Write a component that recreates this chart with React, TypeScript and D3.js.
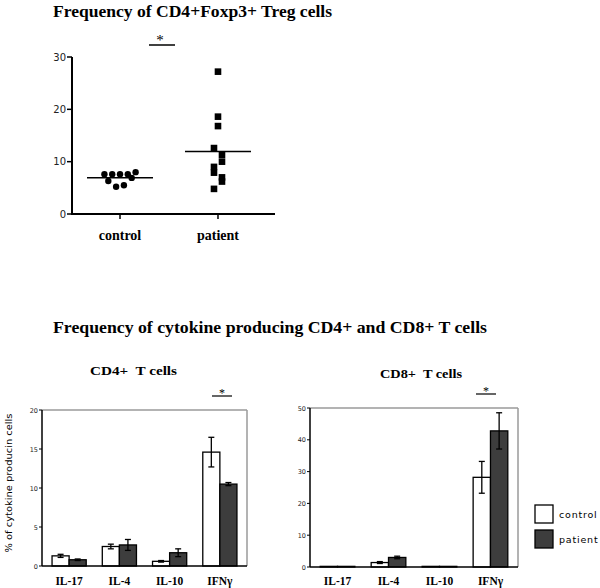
import React from "react";
import * as d3 from "d3";

// ---------- Data ----------
const groups = ["control", "patient"];
const controlTreg = [7.6, 6.3, 7.6, 5.2, 7.6, 5.5, 7.6, 6.9, 8.0];
const patientTreg = [27.2, 18.6, 16.8, 12.6, 11.3, 10.0, 9.0, 7.9, 7.0, 6.2, 4.8];
const patientSide = [0, 0, 0, -1, 1, 1, -1, -1, 1, 1, -1];
const tregTicks = [0, 10, 20, 30];

const cytokines = ["IL-17", "IL-4", "IL-10", "IFNγ"];
const cd4Control = [1.3, 2.5, 0.6, 14.6];
const cd4ControlErr = [0.2, 0.3, 0.1, 1.9];
const cd4Patient = [0.8, 2.7, 1.7, 10.5];
const cd4PatientErr = [0.1, 0.7, 0.5, 0.2];
const cd4Ticks = [0, 5, 10, 15, 20];

const cd8Control = [0.2, 1.4, 0.2, 28.2];
const cd8ControlErr = [0, 0.3, 0, 5.0];
const cd8Patient = [0.2, 3.0, 0.2, 42.8];
const cd8PatientErr = [0, 0.4, 0, 5.7];
const cd8Ticks = [0, 10, 20, 30, 40, 50];

const serif = "'Liberation Serif', 'Times New Roman', Times, 'DejaVu Serif', serif";
const sans = "'DejaVu Sans', Verdana, sans-serif";

function TregPlot() {
  const y = d3.scaleLinear().domain([0, 30]).range([214, 57]);
  const x = d3.scalePoint<string>().domain(groups).range([72, 266]).padding(0.49);
  const cx = x("control")!;
  const px = x("patient")!;
  const cMean = d3.mean(controlTreg)!;
  const pMean = d3.mean(patientTreg)!;
  const n = controlTreg.length;
  return (
    <g>
      <text x={53} y={17} fontFamily={serif} fontWeight="bold" fontSize={16}
        textLength={279} lengthAdjust="spacingAndGlyphs">Frequency of CD4+Foxp3+ Treg cells</text>
      {/* significance */}
      <text x={160} y={45} fontFamily={serif} fontSize={15} textAnchor="middle">*</text>
      <line x1={149} x2={175} y1={45} y2={45} stroke="#000" strokeWidth={1.5} />
      {/* axes */}
      <line x1={72} x2={72} y1={57} y2={214} stroke="#000" strokeWidth={2} />
      <line x1={71} x2={275} y1={214} y2={214} stroke="#000" strokeWidth={2} />
      {tregTicks.map((t) => (
        <g key={t}>
          <line x1={67} x2={72} y1={y(t)} y2={y(t)} stroke="#000" strokeWidth={1.5} />
          <text x={66} y={y(t) + 3.5} fontFamily={sans} fontSize={10} textAnchor="end" fill="#222">{t}</text>
        </g>
      ))}
      {groups.map((g) => (
        <g key={g}>
          <line x1={x(g)} x2={x(g)} y1={214} y2={219} stroke="#000" strokeWidth={1.5} />
          <text x={x(g)} y={240} fontFamily={serif} fontWeight="bold" fontSize={14} textAnchor="middle">{g}</text>
        </g>
      ))}
      {/* control dots */}
      {controlTreg.map((v, i) => (
        <circle key={i} cx={cx + (i - (n - 1) / 2) * 3.9} cy={y(v)} r={3.2} fill="#000" />
      ))}
      <line x1={cx - 33} x2={cx + 33} y1={y(cMean)} y2={y(cMean)} stroke="#000" strokeWidth={1.5} />
      {/* patient squares */}
      {patientTreg.map((v, i) => (
        <rect key={i} x={px + patientSide[i] * 4 - 3.3} y={y(v) - 3.3} width={6.6} height={6.6} fill="#000" />
      ))}
      <line x1={px - 33} x2={px + 33} y1={y(pMean)} y2={y(pMean)} stroke="#000" strokeWidth={1.5} />
    </g>
  );
}

interface BarProps {
  left: number; right: number; top: number; bottom: number;
  max: number; ticks: number[];
  ctrl: number[]; ctrlErr: number[]; pat: number[]; patErr: number[];
  title: string; titleX: number; titleY: number; titleW: number;
  sigX: number; sigY: number;
  yLabel?: boolean;
}

function BarPlot(p: BarProps) {
  const y = d3.scaleLinear().domain([0, p.max]).range([p.bottom, p.top]);
  const x = d3.scaleBand<string>().domain(cytokines).range([p.left, p.right]).paddingInner(0.32).paddingOuter(0.2);
  const sub = d3.scaleBand<string>().domain(["control", "patient"]).range([0, x.bandwidth()]);
  const bw = sub.bandwidth();
  const series = [
    { key: "control", vals: p.ctrl, errs: p.ctrlErr, fill: "#fff" },
    { key: "patient", vals: p.pat, errs: p.patErr, fill: "#3d3d3d" },
  ];
  return (
    <g>
      <text x={p.titleX} y={p.titleY} fontFamily={serif} fontWeight="bold" fontSize={12}
        textLength={p.titleW} lengthAdjust="spacingAndGlyphs" xmlSpace="preserve">{p.title}</text>
      {/* frame */}
      <line x1={p.left} x2={p.right} y1={p.top} y2={p.top} stroke="#9a9a9a" strokeWidth={1.5} />
      <line x1={p.right} x2={p.right} y1={p.top} y2={p.bottom} stroke="#9a9a9a" strokeWidth={1.5} />
      {p.ticks.map((t) => (
        <g key={t}>
          <line x1={p.left - 3} x2={p.left} y1={y(t)} y2={y(t)} stroke="#000" strokeWidth={1} />
          <text x={p.left - 4} y={y(t) + 2.5} fontFamily={sans} fontSize={6.5} textAnchor="end" fill="#222">{t}</text>
        </g>
      ))}
      {series.map((s) =>
        cytokines.map((c, i) => {
          const bx = x(c)! + sub(s.key)!;
          const v = s.vals[i];
          const e = s.errs[i];
          const mid = bx + bw / 2;
          return (
            <g key={s.key + c}>
              <rect x={bx} y={y(v)} width={bw} height={y(0) - y(v)} fill={s.fill} stroke="#000" strokeWidth={1.3} />
              {e > 0 && (
                <g stroke="#000" strokeWidth={1.3}>
                  <line x1={mid} x2={mid} y1={y(v + e)} y2={y(v - e)} />
                  <line x1={mid - 3} x2={mid + 3} y1={y(v + e)} y2={y(v + e)} />
                  <line x1={mid - 3} x2={mid + 3} y1={y(v - e)} y2={y(v - e)} />
                </g>
              )}
            </g>
          );
        })
      )}
      <line x1={p.left} x2={p.left} y1={p.top} y2={p.bottom} stroke="#000" strokeWidth={1.5} />
      <line x1={p.left} x2={p.right} y1={p.bottom} y2={p.bottom} stroke="#000" strokeWidth={1.5} />
      {cytokines.map((c) => (
        <text key={c} x={x(c)! + x.bandwidth() / 2} y={585} fontFamily={serif} fontWeight="bold"
          fontSize={11.5} textAnchor="middle">{c}</text>
      ))}
      <text x={p.sigX} y={p.sigY + 1} fontFamily={serif} fontSize={12} textAnchor="middle">*</text>
      <line x1={p.sigX - 10} x2={p.sigX + 10} y1={p.sigY} y2={p.sigY} stroke="#000" strokeWidth={1.2} />
      {p.yLabel && (
        <text transform={`translate(12,483) rotate(-90)`} fontFamily={sans} fontSize={8.5}
          textAnchor="middle" textLength={139} lengthAdjust="spacingAndGlyphs">% of cytokine producin cells</text>
      )}
    </g>
  );
}

export default function App() {
  return (
    <svg width={600} height={588} style={{ position: "absolute", left: 0, top: 0, background: "#fff" }}>
      <rect width={600} height={588} fill="#fff" />
      <TregPlot />
      <text x={53} y={333} fontFamily={serif} fontWeight="bold" fontSize={16}
        textLength={434} lengthAdjust="spacingAndGlyphs">Frequency of cytokine producing CD4+ and CD8+ T cells</text>
      <BarPlot left={42} right={247} top={410} bottom={566} max={20} ticks={cd4Ticks}
        ctrl={cd4Control} ctrlErr={cd4ControlErr} pat={cd4Patient} patErr={cd4PatientErr}
        title="CD4+  T cells" titleX={90} titleY={375} titleW={87} sigX={222} sigY={396} yLabel />
      <BarPlot left={310} right={518} top={408} bottom={567} max={50} ticks={cd8Ticks}
        ctrl={cd8Control} ctrlErr={cd8ControlErr} pat={cd8Patient} patErr={cd8PatientErr}
        title="CD8+  T cells" titleX={380} titleY={378} titleW={82} sigX={486} sigY={394} />
      {/* legend */}
      {groups.map((g, i) => (
        <g key={g}>
          <rect x={535} y={505 + i * 25} width={18} height={18} fill={i === 0 ? "#fff" : "#3d3d3d"}
            stroke="#000" strokeWidth={1.3} />
          <text x={559} y={518 + i * 25} fontFamily={sans} fontSize={9.5} letterSpacing={0.8}>{g}</text>
        </g>
      ))}
    </svg>
  );
}
